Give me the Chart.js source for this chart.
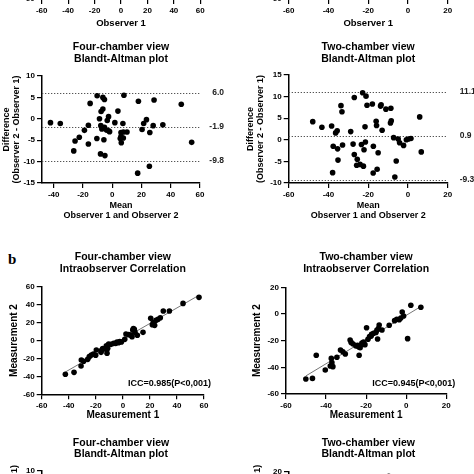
<!DOCTYPE html>
<html><head><meta charset="utf-8">
<script src="https://cdn.jsdelivr.net/npm/chart.js@4.4.0/dist/chart.umd.min.js"></script>
<style>
html,body{margin:0;padding:0;background:#fff;overflow:hidden;width:474px;height:474px;position:relative}
#lblb{position:absolute;left:8px;top:252px;font:bold 15px "Liberation Serif","DejaVu Serif",serif;line-height:15px;color:#000}
</style></head><body>
<div id="lblb">b</div>
<script>
// ---------- DATA ----------
// Four-chamber view, Bland-Altman (interobserver)
const ba4Mean = [-42.2,-35.5,-15.1,-10.3,-6.4,-5.3,8.0,17.9,28.6,47.2,
  54.3,-6.4,-7.6,3.9,-8.7,-2.5,-3.4,1.8,-16.3,-7.8,
  -5.3,-7.1,-3.9,-2.5,-19.0,-10.5,-5.7,-1.8,7.3,7.6,
  6.0,10.1,5.5,7.6,6.2,-22.5,-25.4,-26.3,-16.3,-8.0,
  -5.0,20.4,21.5,23.4,28.0,34.6,25.7,25.4,17.4,6.0];
const ba4Diff = [-0.9,-1.1,3.6,5.4,5.0,4.5,5.5,4.1,4.4,3.4,
  -5.5,2.3,1.7,1.8,0,0.5,-0.4,-0.9,-1.5,-1.6,
  -2.0,-2.4,-2.6,-2.8,-2.7,-4.6,-4.9,-3.0,-1.1,-3.1,
  -3.2,-3.1,-4.6,-4.5,-5.6,-4.3,-5.2,-7.5,-5.9,-8.2,
  -8.6,-2.5,-1.1,-0.2,-1.6,-1.4,-3.2,-11.1,-12.7,-4.1];
const ba4Limits = [6.0, -1.9, -9.8];

// Two-chamber view, Bland-Altman (interobserver)
const ba2Mean = [-47.9,-43.3,-38.4,-36.4,-35.6,-37.6,-35.4,-35.2,-37.9,-33.7,
  -33.2,-32.9,-28.8,-27.6,-27.0,-27.0,-25.5,-25.8,-24.1,-22.4,
  -23.4,-22.1,-21.4,-21.6,-22.8,-21.1,-20.6,-17.9,-17.4,-16.0,
  -15.8,-15.0,-15.5,-17.5,-13.8,-13.5,-13.0,-11.1,-8.6,-8.4,
  -8.8,-7.2,-5.9,-6.6,-4.9,-4.2,-2.2,-0.8,0.2,1.5,
  5.9,6.7];
const ba2Diff = [4.2,2.9,3.2,1.6,2.1,-1.5,-2.1,-4.7,-7.6,7.9,
  6.5,-1.2,1.9,-1.0,-3.4,9.8,-4.5,-5.9,-5.7,-6.1,
  -1.1,-2.3,-0.5,3.0,10.9,10.1,8.0,8.3,-1.5,4.3,
  3.3,-3.0,-6.8,-7.7,7.8,8.1,2.2,7.1,7.3,4.4,
  3.9,0.5,-4.9,-8.6,0.2,-0.7,-1.3,0,0.2,0.3,
  5.3,-2.8];
const ba2Limits = [11.1, 0.9, -9.3];

// Four-chamber view, intraobserver correlation
const ic4M1 = [-42.5,-36.1,-30.7,-30.9,-29.0,-24.8,-23.3,-21.8,-20.1,-19.6,
  -16.1,-14.9,-15.6,-12.2,-11.9,-11.7,-11.2,-10.5,-8.7,-6.8,
  -5.3,-4.3,-3.3,-2.3,1.4,2.3,4.3,5.8,7.3,8.5,
  9.0,10.7,6.8,14.9,20.6,21.8,22.5,23.5,24.5,26.0,
  27.7,29.9,34.4,44.5,56.3,7.8,-1.1,-26.0];
const ic4M2 = [-37.7,-35.5,-21.7,-28.4,-23.2,-18.0,-16.2,-15.0,-16.5,-10.6,
  -13.2,-9.1,-10.6,-5.8,-10.6,-14.3,-8.7,-3.9,-4.3,-3.2,
  -3.2,-1.7,-2.4,-1.3,1.3,7.2,6.5,6.1,11.7,12.4,
  9.1,5.8,4.3,9.1,24.7,17.6,19.9,16.9,22.5,23.6,
  25.4,32.9,32.9,41.4,48.1,13.2,-1.7,-21.0];
const ic4Note = "ICC=0.985(P<0,001)";

// Two-chamber view, intraobserver correlation
const ic2M1 = [-50.1,-46.8,-44.9,-40.4,-37.9,-37.1,-36.6,-37.4,-34.6,-32.8,
  -31.6,-30.4,-28.0,-27.5,-26.5,-25.1,-24.3,-23.5,-23.0,-22.1,
  -21.3,-20.6,-19.8,-19.1,-18.3,-17.5,-16.3,-15.1,-14.6,-13.8,
  -13.5,-12.1,-14.3,-8.5,-5.8,-4.7,-3.5,-2.7,-2.0,-1.3,
  0.7,2.3,7.3,-17.3,-22.1,-23.8];
const ic2M2 = [-48.8,-48.3,-31,-42,-39,-36.5,-39.5,-33.3,-32.5,-27,
  -28.3,-30,-19.5,-21.3,-22.5,-24,-23.5,-31,-25.3,-22.8,
  -21,-23,-10.3,-19,-17,-16.5,-14.5,-13.8,-12,-10.8,
  -8.3,-12,-18.8,-8.5,-5,-4,-4.3,-3,1.5,-1.5,
  -18.5,6.5,5,-15.3,-21.8,-24.5];
const ic2Note = "ICC=0.945(P<0,001)";

// partially visible panel (bottom right)
const baIntra2Mean = [-9.7];
const baIntra2Diff = [18];

// tick values
const ticksX120 = [-60,-40,-20,0,20,40,60];
const ticksX80 = [-60,-40,-20,0,20];
const ticksBA4x = [-40,-20,0,20,40,60];
const ticksBA4y = [-15,-10,-5,0,5,10];
const ticksBA2y = [-10,-5,0,5,10,15];
const ticksY120 = [-60,-40,-20,0,20,40,60];
const ticksY80 = [-60,-40,-20,0,20];
const ticksBAi2y = [-20,-10,0,10,20];

// ---------- RENDERING ----------
const F = '"Liberation Sans", Arial, sans-serif';
function fnt(size, lh){ return {family:F, size:size, weight:'bold', lineHeight: lh ? lh + 'px' : 1.2}; }

const annot = {
  id:'annot',
  beforeDatasetsDraw(chart, args, o){
    if(!o.limits) return;
    const {ctx, chartArea:a, scales:{y}} = chart;
    ctx.save();
    ctx.strokeStyle = '#555'; ctx.lineWidth = 1; ctx.setLineDash([1.3,1.7]);
    o.limits.forEach(v=>{
      const py = Math.round(y.getPixelForValue(v)) + 0.5;
      ctx.beginPath(); ctx.moveTo(a.left, py); ctx.lineTo(a.right, py); ctx.stroke();
    });
    ctx.restore();
  },
  afterDatasetsDraw(chart, args, o){
    const {ctx, chartArea:a, scales:{y}} = chart;
    ctx.save();
    if(o.limits){
      ctx.fillStyle = '#222'; ctx.font = 'bold 8.5px ' + F; ctx.textAlign = o.align; ctx.textBaseline = 'middle';
      o.limits.forEach(v=>{ ctx.fillText(v.toFixed(1), a.right + o.dx, y.getPixelForValue(v)); });
    }
    if(o.note){
      ctx.fillStyle = '#000'; ctx.font = 'bold 9px ' + F; ctx.textAlign = 'right'; ctx.textBaseline = 'middle';
      ctx.fillText(o.note, a.right + o.ndx, a.bottom - o.ndy);
    }
    ctx.restore();
  }
};

function fitLine(xs, ys){
  const n = xs.length;
  const mx = xs.reduce((s,v)=>s+v,0)/n, my = ys.reduce((s,v)=>s+v,0)/n;
  let sxy=0, sxx=0;
  for(let i=0;i<n;i++){ sxy += (xs[i]-mx)*(ys[i]-my); sxx += (xs[i]-mx)*(xs[i]-mx); }
  const b = sxy/sxx, a0 = my - b*mx;
  const lo = Math.min(...xs), hi = Math.max(...xs);
  return [{x:lo, y:a0+b*lo}, {x:hi, y:a0+b*hi}];
}

function axis(min, max, ticks){
  return {
    type:'linear', min:min, max:max,
    afterBuildTicks: a => { a.ticks = ticks.map(v=>({value:v})); },
    grid:{drawOnChartArea:false, drawTicks:true, tickLength:5, color:'#000', lineWidth:1.2},
    border:{display:true, color:'#000', width:1.5},
    ticks:{font:fnt(8), color:'#000', padding:2, maxRotation:0, autoSkip:false}
  };
}

function build(p){
  const cv = document.createElement('canvas');
  cv.width = p.w; cv.height = p.h;
  cv.style.cssText = 'position:absolute;left:'+p.left+'px;top:'+p.top+'px;width:'+p.w+'px;height:'+p.h+'px';
  document.body.appendChild(cv);
  const datasets = [];
  if(p.xs && p.xs.length){
    datasets.push({data:p.xs.map((x,i)=>({x:x, y:p.ys[i]})), pointRadius:2.8, pointHoverRadius:2.8,
      pointBackgroundColor:'#000', pointBorderColor:'#000', pointBorderWidth:0, order:1});
  }
  if(p.fit){
    datasets.push({data:fitLine(p.xs, p.ys), showLine:true, borderColor:'#777', borderWidth:1,
      pointRadius:0, order:2});
  }
  const x = axis(p.xr[0], p.xr[1], p.xt);
  x.afterFit = s => { s.height = p.xH; };
  x.title = p.xTitle ? {display:true, text:p.xTitle, color:'#000', font:fnt(p.atS, p.atLH), padding:{top:0, bottom:p.xTP}} : {display:false};
  const y = axis(p.yr[0], p.yr[1], p.yt);
  y.afterFit = s => { s.width = p.yW; };
  y.title = p.yTitle ? {display:true, text:p.yTitle, color:'#000', font:fnt(p.atS, p.atLH), padding:{top:p.yTP, bottom:0}} : {display:false};
  new Chart(cv, {
    type:'scatter',
    data:{datasets:datasets},
    options:{
      responsive:false, animation:false, devicePixelRatio:1,
      layout:{padding:{left:0, right:p.padR, top:p.padT||0, bottom:0}},
      plugins:{
        legend:{display:false}, tooltip:{enabled:false},
        title: p.title ? {display:true, text:p.title, fullSize:false, color:'#000',
          font:fnt(10.5, p.tLH||12), padding:{top:p.tT, bottom:p.tB}} : {display:false},
        annot:{limits:p.limits, align:p.lAlign, dx:p.lDx, note:p.note, ndx:p.ndx, ndy:p.ndy}
      },
      scales:{x:x, y:y}
    },
    plugins:[annot]
  });
}

// top partial panels (previous row)
build({left:0, top:-150, w:237, h:180, xr:[-60,60], xt:ticksX120, yr:[-60,60], yt:ticksY120,
  xH:31, yW:41.7, padR:36.7, padT:20, xTitle:'Observer 1', atS:9.5, atLH:11, xTP:1.2});
build({left:237, top:-150, w:237, h:180, xr:[-60,20], xt:ticksX80, yr:[-60,20], yt:ticksY80,
  xH:31, yW:51.7, padR:26.3, padT:20, xTitle:'Observer 1', atS:9.5, atLH:11, xTP:1.2});

// Bland-Altman panels
build({left:0, top:38, w:237, h:184, xs:ba4Mean, ys:ba4Diff, xr:[-48,60], xt:ticksBA4x, yr:[-15,10], yt:ticksBA4y,
  xH:39, yW:42, padR:37, title:['Four-chamber view','Blandt-Altman plot'], tT:3.5, tB:10.5,
  xTitle:['Mean','Observer 1 and Observer 2'], yTitle:['Difference','(Observer 2 - Observer 1)'],
  atS:9, atLH:10, xTP:1.7, yTP:2, limits:ba4Limits, lAlign:'right', lDx:24});
build({left:237, top:38, w:237, h:184, xs:ba2Mean, ys:ba2Diff, xr:[-60,20], xt:ticksX80, yr:[-10,15], yt:ticksBA2y,
  xH:39, yW:51.7, padR:26.3, title:['Two-chamber view','Blandt-Altman plot'], tT:3.5, tB:9.5,
  xTitle:['Mean','Observer 1 and Observer 2'], yTitle:['Difference','(Observer 2 - Observer 1)'],
  atS:9, atLH:10, xTP:1.7, yTP:8.3, limits:ba2Limits, lAlign:'left', lDx:12});

// Intraobserver correlation panels
build({left:0, top:250, w:237, h:172, xs:ic4M1, ys:ic4M2, fit:true, xr:[-60,60], xt:ticksX120, yr:[-60,60], yt:ticksY120,
  xH:27.7, yW:41.7, padR:33, title:['Four-chamber view','Intraobserver Correlation'], tT:1.3, tB:11.4,
  xTitle:'Measurement 1', yTitle:'Measurement 2', atS:10, atLH:11, xTP:1, yTP:8.5,
  note:ic4Note, ndx:7, ndy:11});
build({left:237, top:250, w:237, h:172, xs:ic2M1, ys:ic2M2, fit:true, xr:[-60,20], xt:ticksX80, yr:[-60,20], yt:ticksY80,
  xH:28, yW:49, padR:27.7, title:['Two-chamber view','Intraobserver Correlation'], tT:1.3, tB:12,
  xTitle:'Measurement 1', yTitle:'Measurement 2', atS:10, atLH:11, xTP:1, yTP:14.5,
  note:ic2Note, ndx:9, ndy:10.7});

// bottom partial panels (next row)
build({left:0, top:430, w:237, h:176, xr:[-48,60], xt:ticksBA4x, yr:[-15,10], yt:ticksBA4y,
  xH:39, yW:42, padR:37, title:['Four-chamber view','Blandt-Altman plot'], tLH:11, tT:7.8, tB:11.2,
  xTitle:['Mean','Measurement 1 and Measurement 2'], yTitle:['Difference','(Observer 2 - Observer 1)'],
  atS:9, atLH:10, xTP:1.7, yTP:0});
build({left:237, top:430, w:237, h:176, xs:baIntra2Mean, ys:baIntra2Diff, xr:[-60,20], xt:ticksX80, yr:[-20,20], yt:ticksBAi2y,
  xH:40, yW:52, padR:26.3, title:['Two-chamber view','Blandt-Altman plot'], tLH:11, tT:7.8, tB:11.7,
  xTitle:['Mean','Measurement 1 and Measurement 2'], yTitle:['Difference','(Observer 2 - Observer 1)'],
  atS:9, atLH:10, xTP:1.7, yTP:6});
</script>
</body></html>
